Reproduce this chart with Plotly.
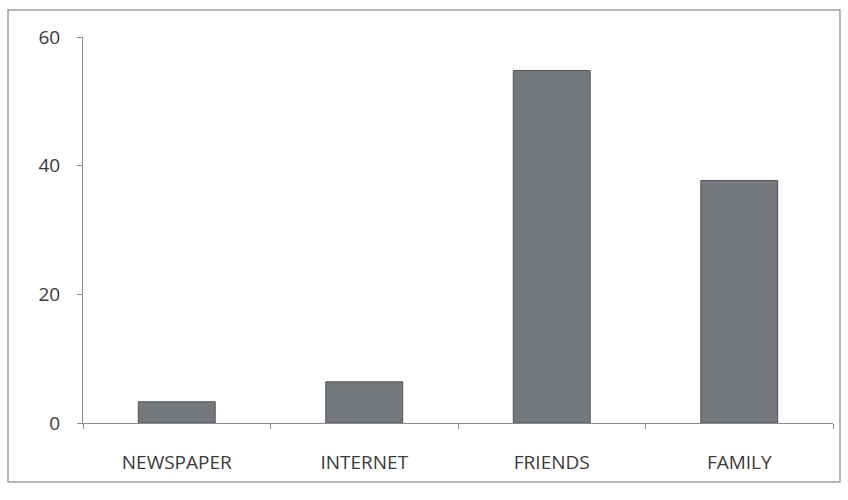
import plotly.graph_objects as go

categories = ["NEWSPAPER", "INTERNET", "FRIENDS", "FAMILY"]
values = [3.3, 6.4, 54.8, 37.7]
y_ticks = [0, 20, 40, 60]

fig = go.Figure()
fig.add_trace(go.Bar(
    x=categories, y=values,
    marker=dict(color="#74787c", line=dict(color="#505357", width=1)),
    width=0.41,
))

fig.update_layout(
    width=848, height=500,
    margin=dict(l=83, r=15, t=37, b=77),
    paper_bgcolor="white", plot_bgcolor="white",
    showlegend=False,
    font=dict(family="Open Sans, Liberation Sans, sans-serif", size=19, color="#3a3a3a"),
    shapes=[dict(type="rect", xref="paper", yref="paper",
                 x0=-0.1, x1=1.0093, y0=-0.153, y1=1.07,
                 line=dict(color="#a0a0a0", width=1.5), layer="below")],
)
fig.update_xaxes(
    showline=True, linecolor="#8c8c8c", linewidth=1,
    ticks="outside", ticklen=5, tickcolor="#8c8c8c",
    tickson="boundaries", showgrid=False,
    ticklabelstandoff=22,
)
fig.update_yaxes(
    range=[0, 60], tickvals=y_ticks,
    showline=True, linecolor="#8c8c8c", linewidth=1,
    ticks="outside", ticklen=5, tickcolor="#8c8c8c",
    showgrid=False, zeroline=False,
    ticklabelstandoff=13,
)

fig.write_html("out.html")
